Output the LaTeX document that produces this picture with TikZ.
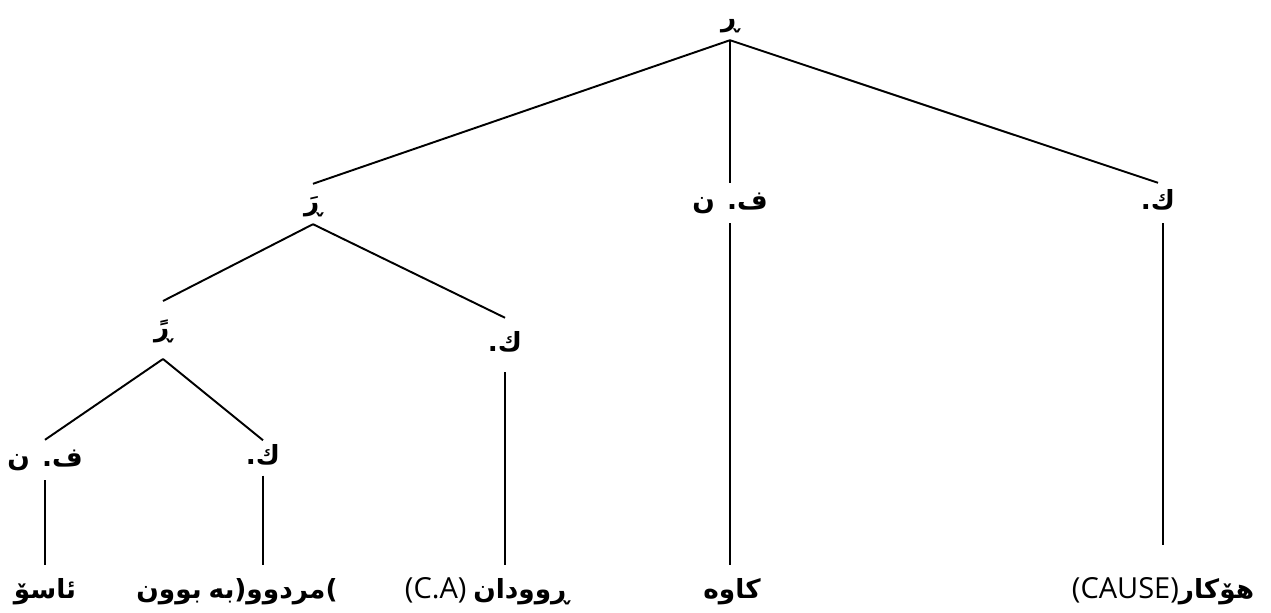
\documentclass[tikz,border=0pt]{standalone}
\usepackage{fontspec}
\setmainfont{Open Sans}
\newfontfamily\kufont[Script=Arabic]{DejaVu Sans}
\TeXXeTstate=1
\newcommand{\ku}[1]{{\kufont\bfseries\beginR #1\endR}}
\newcommand{\kp}[1]{{\kufont\bfseries #1}}
\newcommand{\la}[1]{{\fontsize{16.5}{19}\selectfont #1}}
\tikzset{cat/.style={inner sep=0pt,outer sep=4pt,text height=11pt,text depth=4pt,font=\fontsize{15}{18}\selectfont},
  leaf/.style={cat,outer ysep=8pt}}

\begin{document}
\begin{tikzpicture}[x=0.2mm,y=-0.2mm,line width=1.1pt]
\useasboundingbox (0,0) rectangle (1271,613);
\node[cat] (s) at (730,20) {\ku{ڕ}};
\node[cat] (s1) at (313,204) {\ku{ڕَ}};
\node[cat] (fn) at (730,203) {\ku{ف. ن}};
\node[cat] (k) at (1158,203) {\ku{ك.}};
\node[cat,outer ysep=9pt] (s2) at (163,330) {\ku{ڕً}};
\node[cat,outer ysep=8pt] (k1) at (505,345) {\ku{ك.}};
\node[cat] (fn1) at (45,460) {\ku{ف. ن}};
\node[cat,outer ysep=2.6pt] (k2) at (263,458) {\ku{ك.}};
\node[leaf] (w1) at (45,592) {\ku{ئاسۆ}};
\node[leaf] (w2) at (237,592) {\ku{بوون} \ku{به}\kp{(}\ku{مردوو}\kp{)}};
\node[leaf] (w3) at (487,592) {\la{(C.A)} \ku{ڕوودان}};
\node[leaf] (w4) at (732,592) {\ku{كاوه}};
\node[leaf,outer ysep=19pt] (w5) at (1163,592) {\la{(CAUSE)}\ku{هۆكار}};
\draw (s.south) -- (s1.north);
\draw (s.south) -- (fn.north);
\draw (s.south) -- (k.north);
\draw (s1.south) -- (s2.north);
\draw (s1.south) -- (k1.north);
\draw (s2.south) -- (fn1.north);
\draw (s2.south) -- (k2.north);
\draw (fn1.south) -- (fn1.south |- w1.north);
\draw (k2.south) -- (k2.south |- w2.north);
\draw (k1.south) -- (k1.south |- w3.north);
\draw (fn.south) -- (fn.south |- w4.north);
\draw (k.south -| w5.north) -- (w5.north);
\end{tikzpicture}
\end{document}
